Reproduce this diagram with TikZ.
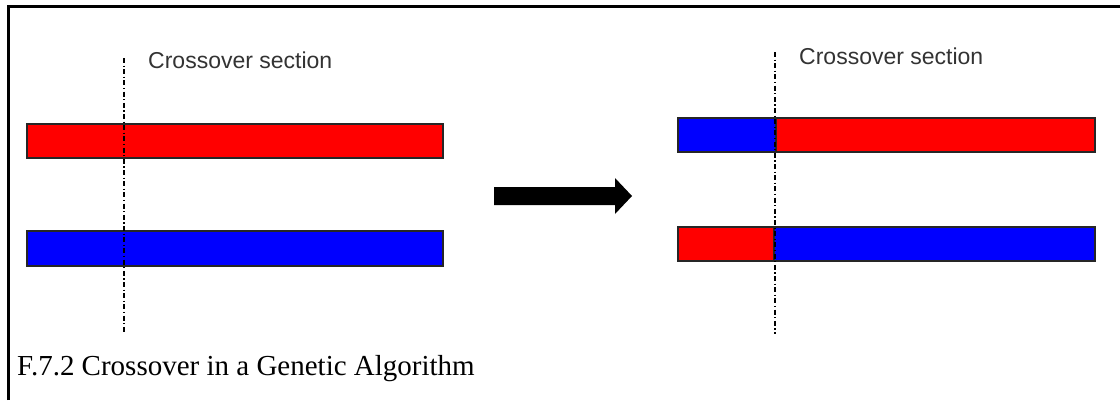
\documentclass[tikz,border=0pt]{standalone}
\usepackage{fontspec}
\setmainfont{Liberation Serif}
\newfontfamily\labelfont{Liberation Sans}
\begin{document}
\begin{tikzpicture}[x=1pt,y=-1pt,
  bar/.style={draw=black!85,line width=1.6pt,inner sep=0pt,anchor=north west},
  cutline/.style={draw=black,line width=1.6pt,dash pattern=on 5pt off 2.5pt on 1.2pt off 2.5pt},
  lbl/.style={font=\labelfont\fontsize{23}{27}\selectfont,text=black!80,anchor=base west,inner sep=0pt},
  captiontext/.style={font=\fontsize{29}{34}\selectfont,anchor=base west,inner sep=0pt}]
\useasboundingbox (0,0) rectangle (1120,400);
\fill[white] (0,0) rectangle (1120,400);
% frame
\draw[line width=3pt] (8,400) -- (8,6) -- (1120,6);
% left: parents
\node[bar,fill=red,minimum width=416pt,minimum height=34pt] (p1) at (26,123) {};
\node[bar,fill=blue,minimum width=416pt,minimum height=35pt] (p2) at (26,230) {};
\coordinate (c1t) at (124,58);
\coordinate (c1b) at (124,333);
\draw[cutline] (c1t) -- (c1b);
\node[lbl] (l1) at (148,68) {Crossover section};
% arrow
\fill[black] (494,187) -- (615,187) -- (615,178) -- (632,196) -- (615,214) -- (615,205) -- (494,205) -- cycle;
% right: children
\node[bar,fill=blue,minimum width=98pt,minimum height=34pt] (k1a) at (677,117) {};
\node[bar,fill=red,minimum width=319pt,minimum height=34pt] (k1b) at (775,117) {};
\node[bar,fill=red,minimum width=96pt,minimum height=34pt] (k2a) at (677,226) {};
\node[bar,fill=blue,minimum width=321pt,minimum height=34pt] (k2b) at (773,226) {};
\coordinate (c2t) at (775,52);
\coordinate (c2b) at (775,334);
\draw[cutline] (c2t) -- (c2b);
\node[lbl] (l2) at (799,64) {Crossover section};
% caption
\node[captiontext] (cap) at (17,375) {F.7.2 Crossover in a Genetic Algorithm};
\end{tikzpicture}
\end{document}
